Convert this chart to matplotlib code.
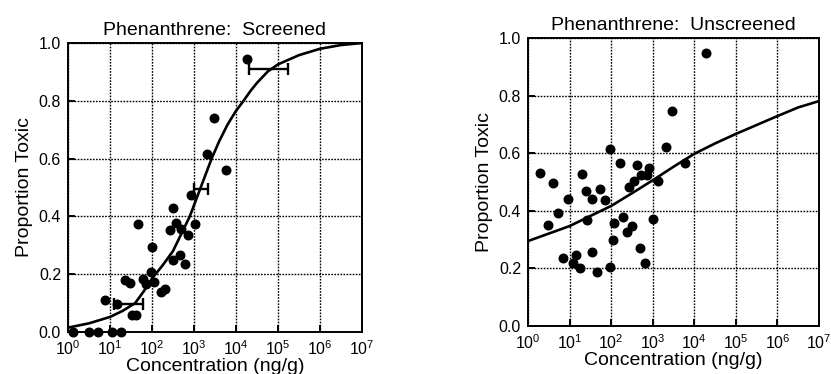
import numpy as np
import matplotlib
matplotlib.use('Agg')
import matplotlib.pyplot as plt

plt.rcParams['font.family'] = ['Liberation Sans', 'DejaVu Sans']
plt.rcParams['mathtext.fontset'] = 'custom'
plt.rcParams['mathtext.rm'] = 'Liberation Sans'

# screened: log10 concentration and proportion toxic
scr_logc = [0.11, 0.50, 0.71, 1.06, 1.26, 0.88, 1.16, 1.36, 1.48, 1.52, 1.62,
            1.67, 1.78, 1.86, 1.98, 2.01, 2.05, 2.22, 2.32, 2.44, 2.50, 2.49,
            2.57, 2.66, 2.70, 2.78, 2.85, 2.93, 3.03, 3.31, 3.48, 3.77, 4.27]
scr_tox = [0.0, 0.0, 0.0, 0.0, 0.0, 0.112, 0.096, 0.18, 0.17, 0.058, 0.058,
           0.373, 0.185, 0.165, 0.208, 0.294, 0.173, 0.137, 0.149, 0.352, 0.429, 0.25,
           0.377, 0.265, 0.358, 0.236, 0.334, 0.475, 0.373, 0.615, 0.742, 0.562, 0.943]

# horizontal error bars (center, low, high in log10, y)
err_mid = [1.44, 3.15, 4.78]
err_lo = [1.10, 3.00, 4.31]
err_hi = [1.78, 3.34, 5.25]
err_y = [0.098, 0.496, 0.909]

# fitted curves
scr_curve_x = [0.0, 0.5, 1.0, 1.3, 1.6, 1.8, 2.0, 2.25, 2.5, 2.7, 2.9, 3.16, 3.42,
               3.6, 3.8, 4.0, 4.18, 4.35, 4.5, 4.76, 5.0, 5.5, 6.0, 6.5, 7.0]
scr_curve_y = [0.015, 0.03, 0.052, 0.073, 0.10, 0.14, 0.185, 0.23, 0.28, 0.34, 0.40,
               0.50, 0.60, 0.66, 0.718, 0.765, 0.80, 0.835, 0.862, 0.902, 0.926, 0.958,
               0.98, 0.993, 1.0]

# unscreened
uns_logc = [0.28, 0.47, 0.59, 0.71, 0.84, 0.97, 1.08, 1.16, 1.24, 1.31, 1.39, 1.43,
            1.53, 1.55, 1.66, 1.72, 1.84, 1.96, 1.98, 2.04, 2.08, 2.21, 2.29, 2.37,
            2.43, 2.49, 2.54, 2.63, 2.69, 2.71, 2.81, 2.85, 2.91, 3.01, 3.13, 3.31,
            3.47, 3.77, 4.27]
uns_tox = [0.531, 0.351, 0.498, 0.392, 0.235, 0.440, 0.218, 0.247, 0.200, 0.528, 0.469,
           0.368, 0.258, 0.440, 0.189, 0.475, 0.438, 0.206, 0.614, 0.297, 0.359, 0.565,
           0.378, 0.326, 0.482, 0.348, 0.502, 0.560, 0.270, 0.525, 0.220, 0.525, 0.548,
           0.372, 0.502, 0.620, 0.745, 0.565, 0.948]

uns_curve_x = [0.0, 1.0, 2.0, 2.5, 3.0, 3.5, 4.0, 4.5, 5.0, 5.5, 6.0, 6.5, 7.0]
uns_curve_y = [0.295, 0.347, 0.417, 0.461, 0.506, 0.553, 0.598, 0.634, 0.667, 0.698,
               0.729, 0.759, 0.781]

fig = plt.figure(figsize=(8.31, 3.74), dpi=100)
ax1 = fig.add_axes([0.0818, 0.1123, 0.3538, 0.7727])
ax2 = fig.add_axes([0.6354, 0.1283, 0.3502, 0.7701])


def setup(ax, title):
	ax.set_xscale('log')
	ax.set_xlim(1, 1e7)
	ax.set_ylim(0, 1)
	ax.set_xticks([10.0 ** k for k in range(8)])
	ax.xaxis.set_minor_locator(matplotlib.ticker.NullLocator())
	ax.set_yticks([0, 0.2, 0.4, 0.6, 0.8, 1.0])
	ax.set_yticklabels(['0.0', '0.2', '0.4', '0.6', '0.8', '1.0'])
	ax.grid(True, color='black', linestyle=(0, (1.2, 1)), linewidth=1.0)
	ax.tick_params(direction='in', length=5, width=1.4, labelsize=11.5, pad=5)
	for s in ax.spines.values():
		s.set_linewidth(1.4)
	ax.set_title(title, fontsize=14, pad=6)
	ax.set_xlabel('Concentration (ng/g)', fontsize=14, labelpad=0)
	ax.set_ylabel('Proportion Toxic', fontsize=14, labelpad=4)


setup(ax1, 'Phenanthrene:  Screened')
setup(ax2, 'Phenanthrene:  Unscreened')

ax1.plot(10.0 ** np.array(scr_curve_x), scr_curve_y, color='black', lw=1.9)
ax1.scatter(10.0 ** np.array(scr_logc), scr_tox, s=38, color='black', zorder=3, clip_on=False)
mid = 10.0 ** np.array(err_mid)
xerr = [mid - 10.0 ** np.array(err_lo), 10.0 ** np.array(err_hi) - mid]
ax1.errorbar(mid, err_y, xerr=xerr, fmt='none', ecolor='black', elinewidth=1.7,
             capsize=4, capthick=1.7)

ax2.plot(10.0 ** np.array(uns_curve_x), uns_curve_y, color='black', lw=1.9)
ax2.scatter(10.0 ** np.array(uns_logc), uns_tox, s=38, color='black', zorder=3)

fig.savefig('out.png', dpi=100)
